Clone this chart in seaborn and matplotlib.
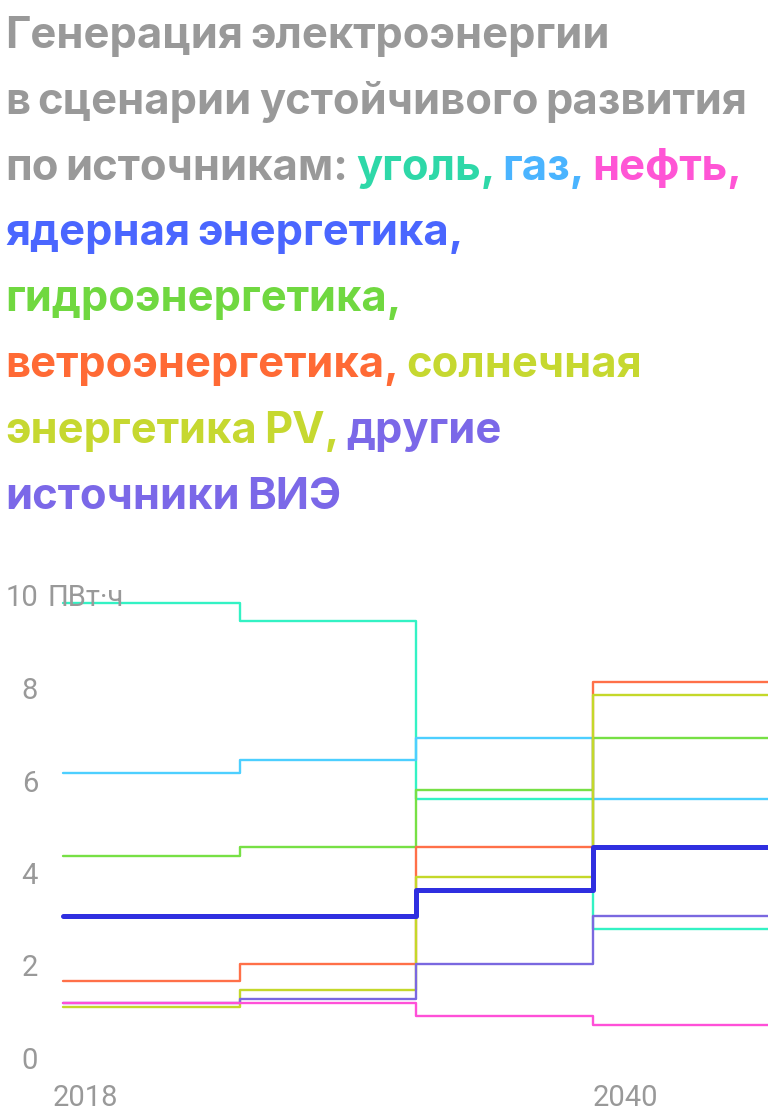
import numpy as np
import pandas as pd
import matplotlib
matplotlib.use('Agg')
import matplotlib.pyplot as plt
import matplotlib.transforms as mtransforms
import seaborn as sns

# data (PWh)
years = ['2018', '2025', '2030', '2040']
coal = [9.84, 9.45, 5.60, 2.79]
gas = [6.16, 6.44, 6.91, 5.60]
oil = [1.18, 1.18, 0.91, 0.71]
nuclear = [3.06, 3.06, 3.63, 4.56]
hydro = [4.37, 4.57, 5.79, 6.91]
wind = [1.66, 2.03, 4.56, 8.12]
solar = [1.10, 1.46, 3.91, 7.85]
other_res = [1.18, 1.28, 2.03, 3.07]
y_ticks = [0, 2, 4, 6, 8, 10]
x_tick_years = ['2018', '2040']

GRAY = '#999999'
line_colors = {
    'coal': '#33f2c4', 'gas': '#4dcfff', 'hydro': '#77e045', 'wind': '#ff7048',
    'solar': '#c4d82a', 'other': '#7a68e0', 'oil': '#ff50d8', 'nuclear': '#2f2fe0',
}
text_colors = {
    'coal': '#2ed8a8', 'gas': '#4ab4ff', 'oil': '#ff55d5', 'nuclear': '#4a66ff',
    'hydro': '#70d840', 'wind': '#ff6a35', 'solar': '#c6d830', 'other': '#7b68e8',
}

series = {'coal': coal, 'gas': gas, 'hydro': hydro, 'wind': wind,
          'solar': solar, 'other': other_res, 'oil': oil, 'nuclear': nuclear}

sns.set_style('white')
plt.rcParams['font.family'] = ['Roboto', 'DejaVu Sans']

W, H = 768, 1119
fig = plt.figure(figsize=(W / 100, H / 100), dpi=100)
fig.patch.set_facecolor('white')

# axes placed in pixels: x=0 at 63px, y=0 at 1058px, y=10 at 595.5px
ax = fig.add_axes([63 / W, (H - 1058) / H, (W - 63) / W, 462.5 / H])

for name, vals in series.items():
    pos = np.arange(len(years) + 1)
    df = pd.DataFrame({'pos': pos, 'value': np.append(vals, vals[-1])})
    sns.lineplot(data=df, x='pos', y='value', ax=ax, color=line_colors[name],
                 drawstyle='steps-post', linewidth=3.6 if name == 'nuclear' else 1.7,
                 clip_on=False)

ax.set_xlim(0, 3.99)
ax.set_ylim(0, 10)
for s in ax.spines.values():
    s.set_visible(False)
ax.set_xlabel('')
ax.set_ylabel('')
ax.set_yticks(y_ticks)
ax.set_yticklabels([str(v) for v in y_ticks])
ax.set_xticks([years.index(y) for y in x_tick_years])
ax.set_xticklabels(x_tick_years)
ax.tick_params(axis='y', length=0, pad=18, labelsize=21, labelcolor=GRAY)
ax.tick_params(axis='x', length=0, pad=19, labelsize=21, labelcolor=GRAY)
for i, lbl in enumerate(ax.get_xticklabels()):
    lbl.set_horizontalalignment('left')
    if i == 0:
        lbl.set_transform(lbl.get_transform() + mtransforms.ScaledTranslation(-10 / 100, 0, fig.dpi_scale_trans))

unit_tr = mtransforms.blended_transform_factory(fig.transFigure, ax.transData)
fig.text(48 / W, 10, 'ПВт·ч', transform=unit_tr, fontsize=21, color=GRAY,
         ha='left', va='center_baseline')

# multi-coloured title
title_lines = [
    [('Генерация', GRAY), ('электроэнергии', GRAY)],
    [('в', GRAY), ('сценарии', GRAY), ('устойчивого', GRAY), ('развития', GRAY)],
    [('по', GRAY), ('источникам:', GRAY), ('уголь,', text_colors['coal']),
     ('газ,', text_colors['gas']), ('нефть,', text_colors['oil'])],
    [('ядерная', text_colors['nuclear']), ('энергетика,', text_colors['nuclear'])],
    [('гидроэнергетика,', text_colors['hydro'])],
    [('ветроэнергетика,', text_colors['wind']), ('солнечная', text_colors['solar'])],
    [('энергетика', text_colors['solar']), ('PV,', text_colors['solar']), ('другие', text_colors['other'])],
    [('источники', text_colors['other']), ('ВИЭ', text_colors['other'])],
]
TITLE_SIZE = 31.3
TITLE_FONT = ['Inter', 'Roboto', 'DejaVu Sans']
renderer = fig.canvas.get_renderer()
probe_a = fig.text(0, 0, 'aa', fontsize=TITLE_SIZE, fontweight='bold', family=TITLE_FONT)
probe_b = fig.text(0, 0, 'a a', fontsize=TITLE_SIZE, fontweight='bold', family=TITLE_FONT)
space_w = probe_b.get_window_extent(renderer).width - probe_a.get_window_extent(renderer).width - 3
probe_a.remove()
probe_b.remove()

for i, parts in enumerate(title_lines):
    base_y = 48 + 65.8 * i
    x = 5
    for word, color in parts:
        t = fig.text(x / W, 1 - base_y / H, word, fontsize=TITLE_SIZE, fontweight='bold',
                     family=TITLE_FONT, color=color, ha='left', va='baseline')
        x = t.get_window_extent(renderer).x1 + space_w

fig.savefig('out.png', dpi=100, facecolor='white')
